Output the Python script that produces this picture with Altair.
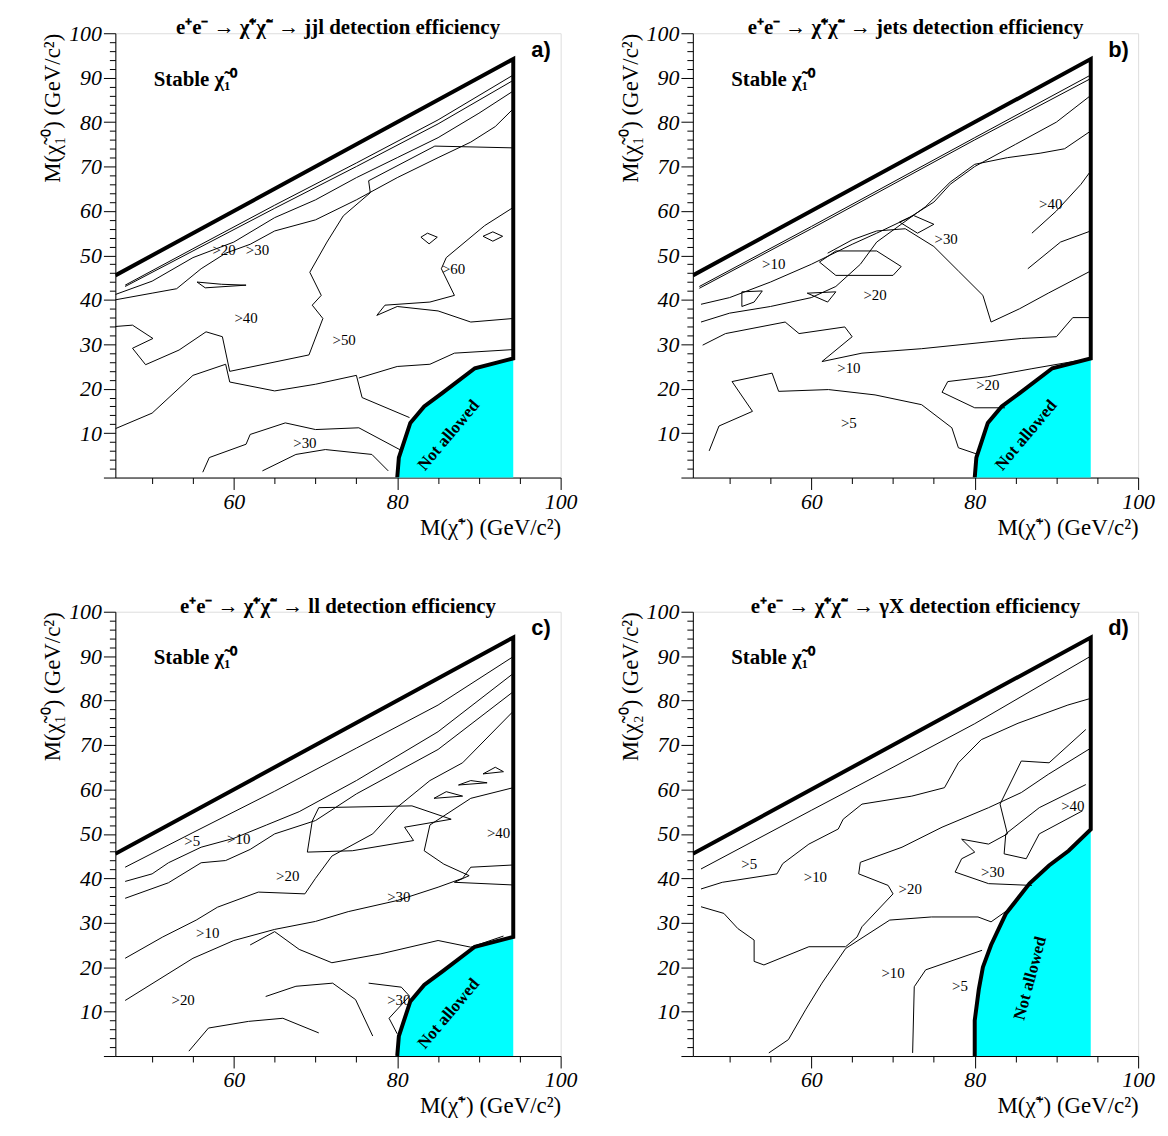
import pandas as pd
import altair as alt

# ---- panel a: jjl
a_lines = [
    [(46.7,43.3),(55,51.5),(65,61.3),(75,70.8),(85,80.5),(94.2,90.6)],
    [(46.7,43.0),(55,51.0),(65,60.6),(75,70.0),(85,79.6),(94.2,89.4)],
    [(45.5,41.2),(50,44.2),(55,49.5),(60,53.0),(65,58.5),(70,62.5),(75,67.5),(80,72),(85,76.5),(90,82),(94.2,87.0)],
    [(45.5,40.0),(50,41.5),(53,42.5),(56,47),(59,50.5),(62,52.5),(65,55.5),(70,58),(75,62.5),(80,67.5),(85,72),(89,75.5),(92,79),(94.2,83)],
    [(45.5,34),(47.6,34.3),(50.1,31.3),(47.6,29.1),(49.2,25.4),(53.3,28.7),(56.6,32.8),(58.6,31.7),(59.5,23.9),(69.2,27.6),(70.9,35.8),(69.6,38.8),(70.7,41),(69.3,46.2),(71.4,53),(73.4,58.9),(76.7,64.1),(76.5,66.8),(84.6,74.6),(94.2,74.2)],
    [(94.2,35.8),(89,35),(85,37.5),(80,38.5),(77.5,36.5),(78.5,38.8),(84,39.5),(87,41),(85.4,47),(86,49.5),(90.7,56.7),(94.2,60.8)],
    [(45.5,11),(50,14.5),(55,23),(59,25.5),(59.5,21.5),(65,19.5),(70,21),(75,23),(75.7,18),(81.5,13.5)],
    [(75.3,22.4),(80,25),(84,25.5),(87,28),(94.2,28.8)],
    [(56.2,1.2),(57,4.5),(61.5,7.5),(62,9.7),(66.3,12.3),(70,10.8),(75.3,11.2),(80.6,6)],
    [(63.5,1.5),(67.6,5.2),(71.2,6.3),(76.9,5.2),(78.9,1.5)],
    [(90.5,54.3),(91.7,55.3),(92.9,54.3),(91.7,53.2),(90.5,54.3)],
    [(82.9,54.1),(83.7,55.0),(84.9,54.1),(83.9,52.6),(82.9,54.1)],
    [(55.5,44.0),(58.5,43.5),(61.5,43.3),(56.5,42.7),(55.5,44.0)],
]
a_labels = [(">20",58.8,51.3),(">30",62.9,51.3),(">40",61.5,35.8),(">50",73.5,31),(">60",86.9,47),(">30",68.7,7.8)]

# ---- panel b: jets
b_lines = [
    [(46.3,43),(60,56.5),(70,66.5),(80,76.5),(94.2,90.6)],
    [(46.3,42.6),(60,56),(70,66),(80,76),(94.2,89.8)],
    [(46.5,39),(50,40.5),(55,44),(60,48),(65,52.5),(68,55),(72,58.5),(75,62),(77,66),(80,70),(85,75),(90,80),(94.2,86)],
    [(46.7,29.8),(49.5,32.4),(56.8,35),(58.5,32.4),(64.1,33.9),(65,31.7),(61.3,26.1),(66.2,28),(73.5,29),(85.7,31.3),(90,31.7),(92,36),(94.2,36)],
    [(46.5,35),(50,37),(55,38.5),(60,40.5),(63,43),(66,48),(68,53),(71,57),(74,61),(77,66.5),(80,70.5),(84,72),(88,73),(91,74),(94.2,78)],
    [(62,50.5),(65,53.5),(68,55.5),(71.5,56),(75,52),(78,46.5),(81,41),(82,35),(85.5,38),(89,41.5),(94.2,46.5)],
    [(86.5,47),(90.5,53),(94.2,55.5)],
    [(87,55),(90,60),(93,66),(94.2,69)],
    [(47.5,6),(48.7,11.6),(52.8,14.9),(50.3,21.6),(55.2,23.5),(56,19.4),(62.1,19.8),(67.8,18.6),(73.5,16.4),(77.2,11.2),(78,6.7),(80.4,5.2)],
    [(83.7,15.7),(80,15.7),(76,19.2),(76.7,21.6),(81.6,22.7),(87,24.5),(94.2,26.8)],
    [(61,48.5),(63,51),(68,51),(71,47.5),(70,45.5),(63,45.5),(61,48.5)],
    [(70.8,57.5),(72.5,59),(75,57),(73,55),(70.8,57.5)],
    [(51.5,41.8),(54,42),(53,39.5),(51.5,38.5),(51.5,41.8)],
    [(59.5,41.5),(63,41.8),(62,39.5),(59.5,41.5)],
]
b_labels = [(">10",55.4,48.1),(">40",89.3,61.5),(">30",76.5,53.7),(">20",67.8,41),(">10",64.6,24.6),(">20",81.6,20.9),(">5",64.6,12.3)]

# ---- panel c: ll
c_lines = [
    [(46.7,42.5),(55,50.3),(65,59.6),(75,69.3),(85,79),(94.2,89.9)],
    [(46.7,39.3),(50,41),(52,43.5),(56,47),(60,49),(64,52),(68,55),(75,62),(85,73),(94.2,86.1)],
    [(46.7,35.5),(52,39),(56,43.5),(59,44),(62,46.5),(65,50),(70,53),(75,59),(80,64),(85,69),(94.2,82)],
    [(46.7,22),(51.3,26.8),(55.4,30.6),(58,33.5),(63,36.9),(68.7,36.5),(70,40),(72,45),(77,50),(80,56),(84,62),(88,66),(94.2,77.6)],
    [(46.7,12.5),(55,22),(60,26),(65,28.5),(70,30.3),(74,32.5),(80,35),(85,38),(88,40),(89,42.5),(94.2,43)],
    [(62,25),(65,28),(68,24),(72,21),(78,23),(85,26),(89,24.5),(93,27)],
    [(69,45.9),(69.6,52.9),(70.4,55.9),(81.8,56.3),(86.6,53.3),(80.9,51.5),(82,48.5),(74.5,46.2),(69,45.9)],
    [(94.2,60.4),(89,58),(84,52),(83.3,46.2),(85.7,43.2),(88.8,40.6),(87,39.1),(94.2,38.5)],
    [(54.5,1.1),(56.9,6.3),(61.8,7.8),(66,8.5),(70.4,5.2)],
    [(63.9,13.4),(67.6,15.7),(72.1,16.4),(74.9,12.7),(77,4.5)],
    [(76.5,16.4),(80.5,15.5),(81.5,13.5),(79,8.5),(80,5)],
    [(84.5,58),(86,59.5),(88,58.5),(84.5,58)],
    [(87.5,61),(89,62),(91,61.5),(87.5,61)],
    [(90.5,63.5),(92,65),(93,64),(90.5,63.5)],
]
c_labels = [(">5",54.9,48.5),(">10",60.6,48.8),(">20",66.6,40.6),(">30",80.2,35.8),(">40",92.4,50.3),(">10",56.8,27.6),(">20",53.8,12.7),(">30",80.2,12.7)]

# ---- panel d: gamma X
d_lines = [
    [(46.5,42.1),(60,55.3),(70,65),(80,74.8),(94.2,90)],
    [(46.5,37.6),(49.1,39.1),(55.8,41),(56.5,43.3),(59.7,47.7),(63.3,51.1),(63.9,53.3),(66.2,56.7),(72.3,58.5),(76.3,60.4),(78,66),(80.8,71.2),(85.3,74.9),(91.4,79),(94.2,80.5)],
    [(46.5,33.6),(49.3,32.1),(51,28.7),(53,26.1),(53,21.3),(54.2,20.5),(59.7,24.6),(64.2,24.6),(65.6,26.8),(66.2,29.1),(70,36.5),(69.4,38.4),(65.8,41),(66,43.6),(71.1,47),(76,51.5),(81.7,55.9),(85.7,59.3),(89,63.4),(94.2,69.3)],
    [(54.8,0.7),(57.2,3.7),(59.3,10.4),(61.3,16.4),(64.2,24.2),(69.6,30.6),(74.7,31.3),(80.4,31.3),(82,30.2),(84,32.8)],
    [(72.4,0.7),(72.6,15.6),(74,19.4),(80.9,23.8)],
    [(87,38.4),(81.7,38.8),(77.6,41.4),(78.4,44.4),(80,45.9),(78.4,48.8),(81.7,47.7),(84,50),(83.1,56.7),(85.7,66.4),(89.1,66),(93.6,73.5)],
    [(93.6,61.1),(87.9,55.9),(83.8,50),(83.6,45.5),(86.3,44.4),(87.9,50),(93.2,55.2)],
]
d_labels = [(">5",52.4,43.3),(">10",60.5,40.3),(">20",72.1,37.7),(">30",82.2,41.4),(">40",92,56.3),(">10",70,18.6),(">5",78.2,15.7)]

cyan_std = [(80,0),(80.2,4.5),(81.6,12.3),(83.3,16),(85.5,19),(89.5,24.6),(94.2,26.8)]
cyan_d = [(80,0),(80,8),(80.5,15),(81,20),(82,25),(83.8,32),(86.7,38.8),(89.1,42.9),(91.5,46.2),(94.2,51)]

titles = ["e⁺e⁻ → χ̃⁺χ̃⁻ → jjl detection efficiency",
          "e⁺e⁻ → χ̃⁺χ̃⁻ → jets detection efficiency",
          "e⁺e⁻ → χ̃⁺χ̃⁻ → ll detection efficiency",
          "e⁺e⁻ → χ̃⁺χ̃⁻ → γX detection efficiency"]
ytitles = ["M(χ̃₁⁰) (GeV/c²)"] * 3 + ["M(χ̃₂⁰) (GeV/c²)"]
letters = ["a)", "b)", "c)", "d)"]

SERIF = "Liberation Serif"
xs = alt.Scale(domain=[45.5, 100], nice=False, zero=False)
ys = alt.Scale(domain=[0, 100], nice=False)


def panel(lines, labels, cyan, letter, title, ytitle, na_pos, na_angle):
    rows = [dict(id=k, i=i, x=p[0], y=p[1]) for k, ln in enumerate(lines) for i, p in enumerate(ln)]
    df = pd.DataFrame(rows)
    xax = alt.Axis(values=list(range(50, 101, 5)), labelExpr="datum.value % 20 == 0 ? datum.value : ''",
                   labelOverlap=False, labelFlush=False,
                   title="M(χ̃⁺) (GeV/c²)", titleAnchor="end", titleFont=SERIF, titleFontSize=23,
                   titleFontWeight="normal", labelFont=SERIF, labelFontSize=22, labelFontStyle="italic",
                   tickSize={"condition": {"test": "datum.value % 20 == 0", "value": 12}, "value": 6},
                   grid=False, domainColor="black", tickColor="black", labelColor="black", titleColor="black")
    yax = alt.Axis(values=list(range(0, 101, 2)),
                   labelExpr="datum.value % 10 == 0 && datum.value > 0 ? datum.value : ''",
                   labelOverlap=False, labelFlush=False,
                   title=ytitle, titleAnchor="end", titleFont=SERIF, titleFontSize=23,
                   titleFontWeight="normal", labelFont=SERIF, labelFontSize=22, labelFontStyle="italic",
                   tickSize={"condition": {"test": "datum.value % 10 == 0", "value": 12}, "value": 6},
                   grid=False, domainColor="black", tickColor="black", labelColor="black", titleColor="black")
    X = alt.X("x:Q", scale=xs, axis=xax)
    Y = alt.Y("y:Q", scale=ys, axis=yax)
    cont = alt.Chart(df).mark_line(color="black", strokeWidth=1, clip=True).encode(
        x=X, y=Y, detail="id:N", order="i:Q")
    cdf = pd.DataFrame(cyan, columns=["x", "y"])
    area = alt.Chart(cdf).mark_area(color="#00ffff", orient="horizontal", opacity=1).encode(
        x=X, x2=alt.datum(94.2), y=Y)
    top = cyan[-1][1]
    bpts = [(45.5, 45.5), (94.2, 94.2), (94.2, top)] + list(reversed(cyan))
    bdf = pd.DataFrame([dict(i=i, x=p[0], y=p[1]) for i, p in enumerate(bpts)])
    bound = alt.Chart(bdf).mark_line(color="black", strokeWidth=4, clip=True).encode(
        x=X, y=Y, order="i:Q")
    ldf = pd.DataFrame(labels, columns=["t", "x", "y"])
    lab = alt.Chart(ldf).mark_text(font=SERIF, fontSize=15, color="black").encode(
        x=X, y=Y, text="t:N")
    extra = pd.DataFrame([dict(t="Not allowed", x=na_pos[0], y=na_pos[1])])
    na = alt.Chart(extra).mark_text(font=SERIF, fontSize=17, fontWeight="bold", angle=na_angle,
                                    color="black").encode(x=X, y=Y, text="t:N")
    st = alt.Chart(pd.DataFrame([dict(t="Stable χ̃₁⁰", x=50.2, y=89.5)])).mark_text(
        font=SERIF, fontSize=21, fontWeight="bold", align="left", color="black").encode(
        x=X, y=Y, text="t:N")
    le = alt.Chart(pd.DataFrame([dict(t=letter, x=97.6, y=96.3)])).mark_text(
        font="Liberation Sans", fontSize=22, fontWeight="bold", color="black").encode(
        x=X, y=Y, text="t:N")
    return (area + cont + bound + lab + na + st + le).properties(
        width=448, height=447,
        title=alt.Title(title, font=SERIF, fontSize=21, fontWeight="bold", color="black", offset=-16))


pa = panel(a_lines, a_labels, cyan_std, letters[0], titles[0], ytitles[0], (86.3, 9.5), 310)
pb = panel(b_lines, b_labels, cyan_std, letters[1], titles[1], ytitles[1], (86.3, 9.5), 310)
pc = panel(c_lines, c_labels, cyan_std, letters[2], titles[2], ytitles[2], (86.3, 9.5), 310)
pd_ = panel(d_lines, d_labels, cyan_d, letters[3], titles[3], ytitles[3], (86.8, 17.5), 285)

chart = alt.vconcat(
    alt.hconcat(pa, pb, spacing=41),
    alt.hconcat(pc, pd_, spacing=41),
    spacing=55,
).properties(padding={"left": 33, "top": 5, "right": 5, "bottom": 5}).configure_view(
    stroke="black", strokeWidth=1.5).configure(background="white")

chart.save("out.html", embed_options={"renderer": "svg", "actions": False})
